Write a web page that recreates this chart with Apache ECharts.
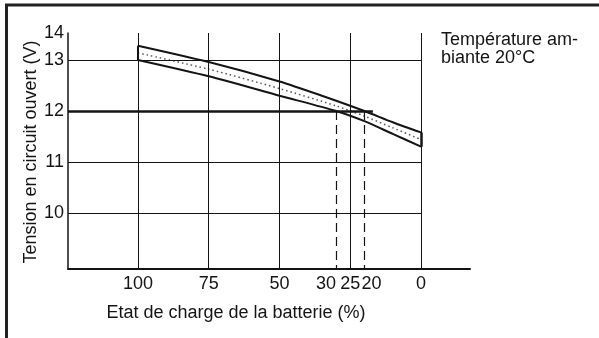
<!DOCTYPE html>
<html>
<head>
<meta charset="utf-8">
<script src="https://cdn.jsdelivr.net/npm/echarts@6/dist/echarts.min.js"></script>
<style>
  html, body { margin: 0; padding: 0; background: #fff; }
  #chart { width: 599px; height: 338px; }
</style>
</head>
<body>
<div id="chart"></div>
<script>
// State of charge (%) tick labels and the grid columns
const socTicks = [100, 75, 50, 30, 25, 20, 0];
const socGrid = [100, 75, 50, 25, 0];
// Voltage ticks (V); the axis top is labelled with its rounded value
const voltTicks = [10, 11, 12, 13];
const voltGrid = [10, 11, 13];
const refVoltage = 12;
const refLineEnd = 17;          // % where the 12 V line stops
const crossSoc = [30, 20];      // 12 V reached on the lower / upper curve

// Open-circuit voltage vs. state of charge: [SOC %, V]
const upperCurve = [[100, 13.28], [75, 12.96], [50, 12.58], [35, 12.3], [20, 12.0], [10, 11.78], [0, 11.58]];
const middleCurve = [[100, 13.14], [75, 12.82], [50, 12.44], [30, 12.1], [20, 11.9], [10, 11.67], [0, 11.44]];
const lowerCurve = [[100, 13.0], [75, 12.68], [50, 12.3], [30, 12.0], [20, 11.8], [10, 11.55], [0, 11.3]];

const xMin = -17.3, xMax = 124.7;
const yMin = 8.9, yMax = 13.53;

const ink = '#141414';
const font = '"Liberation Sans", Arial, sans-serif';

const seg = (a, b, style) => [{ coord: a, lineStyle: style }, { coord: b }];

const gridLines = [];
socGrid.forEach(s => gridLines.push(seg([s, yMin], [s, yMax], { color: ink, width: 1, type: 'solid' })));
voltGrid.forEach(v => gridLines.push(seg([xMax, v], [0, v], { color: ink, width: 1, type: 'solid' })));
gridLines.push(seg([xMax, refVoltage], [refLineEnd, refVoltage], { color: ink, width: 2.5, type: 'solid' }));
crossSoc.forEach(s => gridLines.push(seg([s, refVoltage], [s, yMin], { color: ink, width: 1.2, type: [9, 5] })));
// closing strokes at both ends of the band
gridLines.push(seg([0, lowerCurve[lowerCurve.length - 1][1]], [0, upperCurve[upperCurve.length - 1][1]], { color: ink, width: 2.5, type: 'solid' }));
gridLines.push(seg([100, lowerCurve[0][1]], [100, upperCurve[0][1]], { color: ink, width: 2, type: 'solid' }));

// tightly packed tick labels are nudged apart
const tickRich = {
  l: { padding: [0, 20, 0, 0], fontSize: 18, fontFamily: font, color: ink },
  r: { padding: [0, 0, 0, 14], fontSize: 18, fontFamily: font, color: ink }
};
const tickText = v => v === 30 ? '{l|30}' : v === 20 ? '{r|20}' : String(v);

const chart = echarts.init(document.getElementById('chart'), null, { renderer: 'canvas' });
chart.setOption({
  animation: false,
  backgroundColor: '#fff',
  grid: { left: 68, right: 129, top: 33, bottom: 69 },
  xAxis: {
    type: 'value', inverse: true, min: xMin, max: xMax,
    axisLine: { show: true, onZero: false, lineStyle: { color: ink, width: 2 } },
    axisTick: { show: false },
    splitLine: { show: false },
    axisLabel: {
      customValues: socTicks, margin: 6,
      color: ink, fontSize: 18, fontFamily: font,
      formatter: tickText, rich: tickRich
    }
  },
  yAxis: {
    type: 'value', min: yMin, max: yMax,
    axisLine: { show: true, onZero: false, lineStyle: { color: ink, width: 1.5 } },
    axisTick: { show: false },
    splitLine: { show: false },
    axisLabel: {
      customValues: voltTicks.concat([yMax]), margin: 4,
      color: ink, fontSize: 18, fontFamily: font,
      formatter: v => String(Math.round(v))
    }
  },
  graphic: [
    { type: 'line', shape: { x1: 5, y1: 5, x2: 599, y2: 5 }, style: { stroke: '#222', lineWidth: 3 } },
    { type: 'line', shape: { x1: 6.5, y1: 4, x2: 6.5, y2: 338 }, style: { stroke: '#222', lineWidth: 3 } },
    { type: 'text', left: 441, top: 31,
      style: { text: 'Température am-\nbiante 20°C', fontSize: 18, lineHeight: 18, fontFamily: font, fill: ink } },
    { type: 'text', x: 236, y: 313,
      style: { text: 'Etat de charge de la batterie (%)', fontSize: 18, fontFamily: font, fill: ink, align: 'center', verticalAlign: 'middle' } },
    { type: 'text', x: 31, y: 152, rotation: Math.PI / 2,
      style: { text: 'Tension en circuit ouvert (V)', fontSize: 18, fontFamily: font, fill: ink, align: 'center', verticalAlign: 'middle' } }
  ],
  series: [
    {
      type: 'line', data: [], silent: true,
      markLine: { silent: true, symbol: 'none', label: { show: false }, animation: false, data: gridLines }
    },
    { type: 'line', data: upperCurve, smooth: 0.25, symbol: 'none', lineStyle: { color: ink, width: 2 }, silent: true },
    { type: 'line', data: middleCurve, smooth: 0.25, symbol: 'none', lineStyle: { color: '#555', width: 1.5, type: [1.5, 3] }, silent: true },
    { type: 'line', data: lowerCurve, smooth: 0.25, symbol: 'none', lineStyle: { color: ink, width: 2 }, silent: true }
  ]
});
</script>
</body>
</html>
